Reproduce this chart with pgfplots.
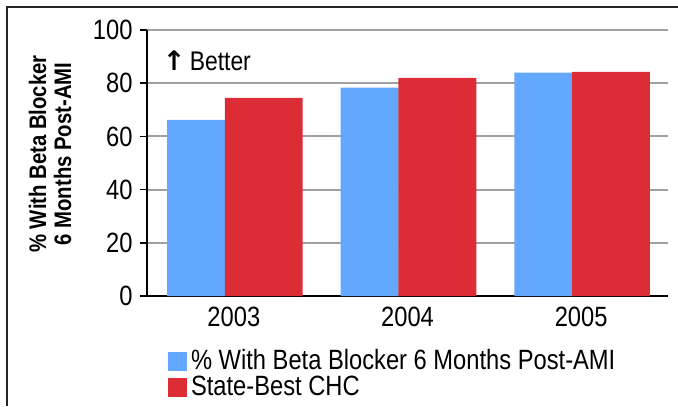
\documentclass[border=0pt]{standalone}
\usepackage{fontspec}
\setmainfont[FakeStretch=0.85]{Liberation Sans}
\newfontfamily\arrowfont{DejaVu Sans}
\usepackage{pgfplots}
\pgfplotsset{compat=1.18}
\definecolor{bblue}{HTML}{62A8FF}
\definecolor{bred}{HTML}{DC2C35}
\definecolor{gridgray}{HTML}{A0A0A0}

\begin{document}
\begin{tikzpicture}[x=1bp,y=1bp]
\useasboundingbox (0,0) rectangle (678,406);
% frame of the original slide
\draw[line width=1.5bp, black!85] (7,0) -- (7,399) -- (678,399);
\begin{axis}[at={(147bp,110bp)}, anchor=south west,
   scale only axis, width=521bp, height=266bp,
   xmin=-0.5, xmax=2.5, ymin=0, ymax=100,
   axis x line*=bottom, axis y line*=left,
   axis line style={line width=1.5bp, -},
   tick align=outside, major tick length=7bp,
   tick style={black, line width=1.5bp},
   ytick={0,20,...,100},
   ymajorgrids, grid style={gridgray, line width=2bp},
   xtick={0,1,2}, xticklabels={2003,2004,2005},
   xtick style={draw=none},
   extra x ticks={-0.5,0.5,1.5,2.5}, extra x tick labels={},
   extra x tick style={tick style={draw=black, line width=1.5bp}, major tick length=8bp, grid=none},
   /pgf/number format/assume math mode=true,
   ticklabel style={font=\fontsize{28}{28}\selectfont},
   yticklabel style={xshift=-4bp},
   every axis y label/.style={at={(rel axis cs:0,0.5)}, xshift=-97bp, yshift=9bp,
      rotate=90, anchor=center, align=center,
      font=\fontsize{24}{25}\selectfont\bfseries},
   ylabel={\% With Beta Blocker\\6 Months Post-AMI},
   legend style={at={(0.04,-0.2)}, anchor=north west, draw=none, fill=none,
      inner sep=0pt, row sep=1bp, font=\fontsize{28}{28}\selectfont,
      nodes={inner ysep=0pt, inner xsep=4bp, text height=20bp, text depth=5bp}},
   legend cell align=left,
   legend image code/.code={\fill[#1] (0bp,-9bp) rectangle (19bp,10bp);},
   clip=false]
\addplot[ybar, fill=bblue, draw=none, bar width=0.333, bar shift=-0.218]
   coordinates {(0,66.2) (1,78.3) (2,84.0)};
\addlegendentry{\% With Beta Blocker 6 Months Post-AMI}
\addplot[ybar, fill=bred, draw=none, bar width=0.448, bar shift=0.172]
   coordinates {(0,74.5) (1,82.0) (2,84.3)};
\addlegendentry{State-Best CHC}
\node[anchor=west, font=\fontsize{27}{27}\selectfont, inner sep=0pt]
   at (axis cs:-0.41,88.5) {{\arrowfont\bfseries ↑}\,Better};
\end{axis}
\end{tikzpicture}
\end{document}
